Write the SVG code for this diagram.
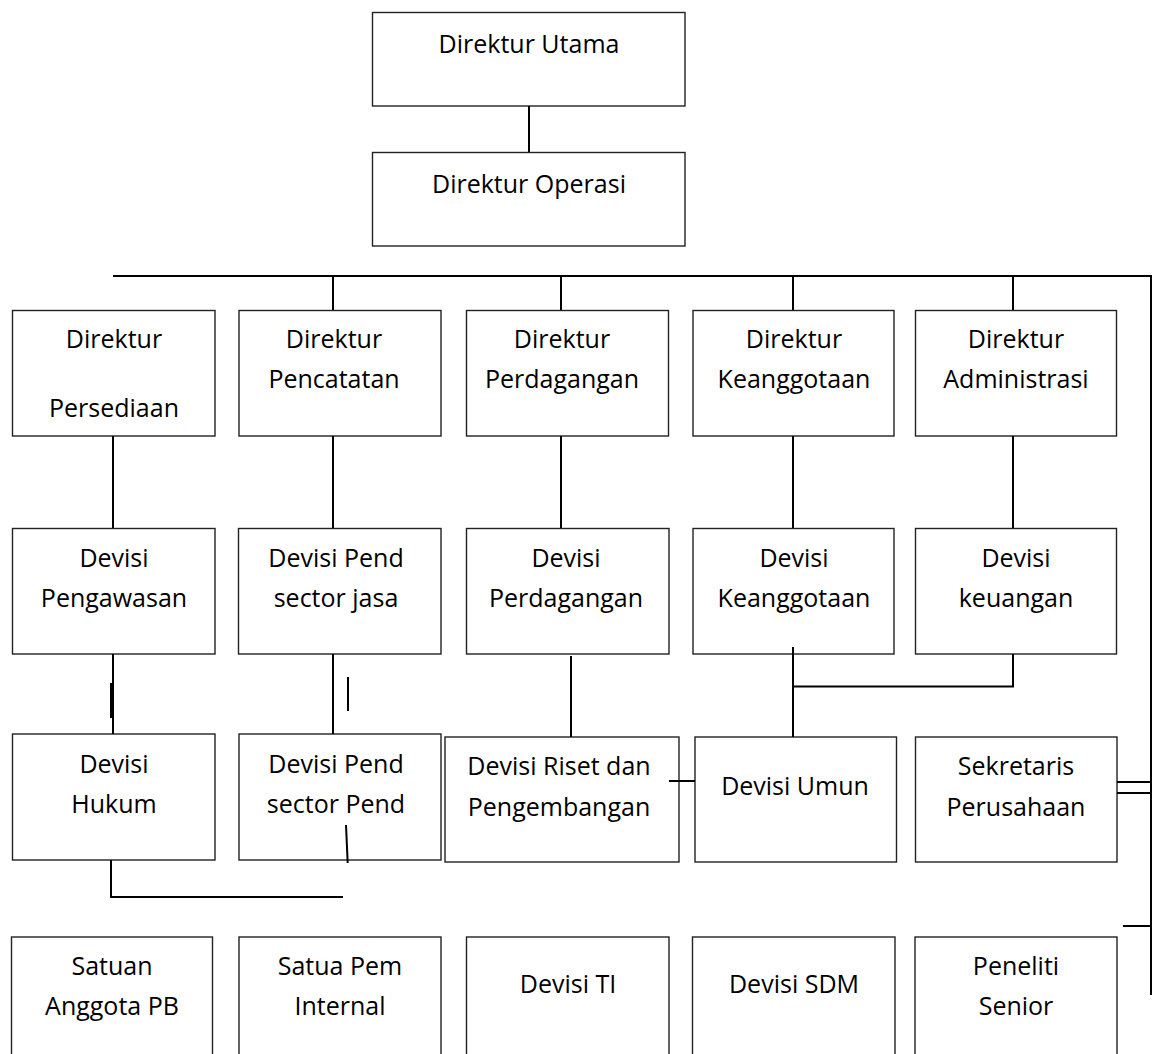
<svg xmlns="http://www.w3.org/2000/svg" width="1157" height="1054" viewBox="0 0 1157 1054">
<style>
.b{fill:#fff;stroke:#222;stroke-width:1.4}
.t{font-family:"Open Sans","Noto Sans",sans-serif;font-size:25px;fill:#000;text-anchor:middle}
.c line,.c polyline{stroke:#000;stroke-width:2;fill:none}
</style>
<rect width="1157" height="1054" fill="#fff"/>
<g id="n-utama"><rect class="b" x="372.5" y="12.5" width="312.5" height="93.5"/><text class="t" x="529" y="53">Direktur Utama</text></g>
<g id="n-operasi"><rect class="b" x="372.5" y="152.5" width="312.5" height="93.5"/><text class="t" x="529" y="193">Direktur Operasi</text></g>

<g id="n-d-persediaan"><rect class="b" x="12.5" y="310.5" width="202.5" height="125.5"/><text class="t" x="114" y="348">Direktur</text><text class="t" x="114" y="417">Persediaan</text></g>
<g id="n-d-pencatatan"><rect class="b" x="239" y="310.5" width="202" height="125.5"/><text class="t" x="334" y="348">Direktur</text><text class="t" x="334" y="388">Pencatatan</text></g>
<g id="n-d-perdagangan"><rect class="b" x="466.5" y="310.5" width="202" height="125.5"/><text class="t" x="562" y="348">Direktur</text><text class="t" x="562" y="388">Perdagangan</text></g>
<g id="n-d-keanggotaan"><rect class="b" x="693" y="310.5" width="201" height="125.5"/><text class="t" x="794" y="348">Direktur</text><text class="t" x="794" y="388">Keanggotaan</text></g>
<g id="n-d-administrasi"><rect class="b" x="915.5" y="310.5" width="201" height="125.5"/><text class="t" x="1016" y="348">Direktur</text><text class="t" x="1016" y="388">Administrasi</text></g>

<g id="n-v-pengawasan"><rect class="b" x="12.5" y="528.5" width="202.5" height="125.5"/><text class="t" x="114" y="567">Devisi</text><text class="t" x="114" y="607">Pengawasan</text></g>
<g id="n-v-jasa"><rect class="b" x="238.5" y="528.5" width="202.5" height="125.5"/><text class="t" x="336" y="567">Devisi Pend</text><text class="t" x="336" y="607">sector jasa</text></g>
<g id="n-v-perdagangan"><rect class="b" x="466.5" y="528.5" width="202.5" height="125.5"/><text class="t" x="566" y="567">Devisi</text><text class="t" x="566" y="607">Perdagangan</text></g>
<g id="n-v-keanggotaan"><rect class="b" x="693" y="528.5" width="201" height="125.5"/><text class="t" x="794" y="567">Devisi</text><text class="t" x="794" y="607">Keanggotaan</text></g>
<g id="n-v-keuangan"><rect class="b" x="915.5" y="528.5" width="201" height="125.5"/><text class="t" x="1016" y="567">Devisi</text><text class="t" x="1016" y="607">keuangan</text></g>

<g id="n-hukum"><rect class="b" x="12.5" y="734" width="202.5" height="126"/><text class="t" x="114" y="773">Devisi</text><text class="t" x="114" y="813">Hukum</text></g>
<g id="n-pend"><rect class="b" x="239" y="734" width="202" height="126"/><text class="t" x="336" y="773">Devisi Pend</text><text class="t" x="336" y="813">sector Pend</text></g>
<g id="n-riset"><rect class="b" x="445" y="737" width="234" height="125"/><text class="t" x="559" y="775">Devisi Riset dan</text><text class="t" x="559" y="816">Pengembangan</text></g>
<g id="n-umun"><rect class="b" x="695" y="737" width="201.5" height="125"/><text class="t" x="795" y="795">Devisi Umun</text></g>
<g id="n-sekretaris"><rect class="b" x="915.5" y="737" width="201.5" height="125"/><text class="t" x="1016" y="775">Sekretaris</text><text class="t" x="1016" y="816">Perusahaan</text></g>

<g id="n-satuan"><rect class="b" x="11.5" y="937" width="201" height="130"/><text class="t" x="112" y="975">Satuan</text><text class="t" x="112" y="1015">Anggota PB</text></g>
<g id="n-satua"><rect class="b" x="239" y="937" width="202" height="130"/><text class="t" x="340" y="975">Satua Pem</text><text class="t" x="340" y="1015">Internal</text></g>
<g id="n-ti"><rect class="b" x="466.5" y="937" width="202.5" height="130"/><text class="t" x="568" y="993">Devisi TI</text></g>
<g id="n-sdm"><rect class="b" x="692.5" y="937" width="202.5" height="130"/><text class="t" x="794" y="993">Devisi SDM</text></g>
<g id="n-peneliti"><rect class="b" x="915" y="937" width="202" height="130"/><text class="t" x="1016" y="975">Peneliti</text><text class="t" x="1016" y="1015">Senior</text></g>

<g class="c" id="connectors">
<line x1="529" y1="106" x2="529" y2="152"/>
<line x1="113" y1="276" x2="1151" y2="276"/>
<line x1="1151" y1="275" x2="1151" y2="995"/>
<line x1="333" y1="276" x2="333" y2="310"/>
<line x1="561" y1="276" x2="561" y2="310"/>
<line x1="793" y1="276" x2="793" y2="310"/>
<line x1="1013" y1="276" x2="1013" y2="310"/>
<line x1="113" y1="436" x2="113" y2="528"/>
<line x1="333" y1="436" x2="333" y2="528"/>
<line x1="561" y1="436" x2="561" y2="528"/>
<line x1="793" y1="436" x2="793" y2="528"/>
<line x1="1013" y1="436" x2="1013" y2="528"/>
<line x1="113" y1="654" x2="113" y2="734"/>
<line x1="111.5" y1="683" x2="111.5" y2="718" style="stroke-width:3"/>
<line x1="333" y1="654" x2="333" y2="734"/>
<line x1="348" y1="677" x2="348" y2="711"/>
<line x1="346" y1="825" x2="347.7" y2="863"/>
<polyline points="111,860 111,897 343,897"/>
<line x1="571" y1="656" x2="571" y2="737"/>
<line x1="669" y1="781" x2="695" y2="781"/>
<line x1="793" y1="647" x2="793" y2="737"/>
<polyline points="793,686.5 1013,686.5 1013,654"/>
<line x1="1117" y1="782" x2="1151" y2="782"/>
<line x1="1117" y1="793" x2="1150" y2="793"/>
<line x1="1123" y1="926" x2="1151" y2="926"/>
</g>
</svg>
